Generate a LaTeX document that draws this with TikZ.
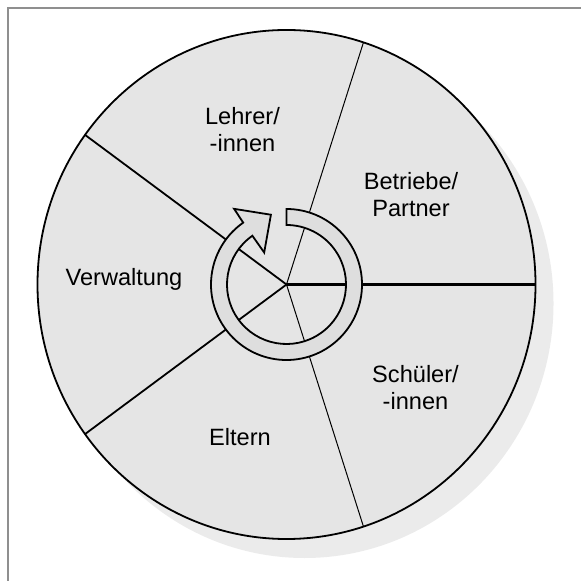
\documentclass[tikz,border=0pt]{standalone}
\usepackage{fontspec}
\setmainfont{Liberation Sans}
\usetikzlibrary{positioning}
\definecolor{wheelfill}{gray}{0.90}
\definecolor{shadowfill}{gray}{0.92}
\definecolor{ringfill}{gray}{0.87}
\definecolor{framegray}{gray}{0.56}
\tikzset{
  label/.style={font=\fontsize{11.8}{13.5}\selectfont, align=center, inner sep=0pt},
  rim/.style={draw, line width=0.9pt, fill=wheelfill},
  thinspoke/.style={line width=0.5pt},
  midspoke/.style={line width=0.9pt},
  thickspoke/.style={line width=1.4pt},
  ring/.style={draw, line width=0.9pt, fill=ringfill, line join=miter},
  frameline/.style={draw=framegray, line width=1pt}
}

\begin{document}
\begin{tikzpicture}[x=0.5pt, y=0.5pt]

\useasboundingbox (-286.5,-296.5) rectangle (294.5,284.5);

% Frame (top and left only)
\draw[frameline] (-278,-296.5) -- (-278,276) -- (294.5,276);

% Shadow
\fill[shadowfill] (18,-19) ellipse [x radius=249, y radius=254.5];

% Wheel
\coordinate (c) at (0,0);
\draw[rim] (c) ellipse [x radius=249, y radius=254.5];

% Spokes
\coordinate (s0)   at ({249*cos(0)},{254.5*sin(0)});
\coordinate (s72)  at ({249*cos(72)},{254.5*sin(72)});
\coordinate (s144) at ({249*cos(144)},{254.5*sin(144)});
\coordinate (s216) at ({249*cos(216)},{254.5*sin(216)});
\coordinate (s288) at ({249*cos(288)},{254.5*sin(288)});
\draw[thickspoke] (c) -- (s0);
\draw[thinspoke] (c) -- (s72);
\draw[midspoke] (c) -- (s144);
\draw[midspoke] (c) -- (s216);
\draw[thinspoke] (c) -- (s288);

% Circular arrow
\draw[ring] (90:75.5) arc[start angle=90, end angle=-235, radius=75.5]
  -- (124.7:92) -- (102.6:71.5) -- (124.9:39) -- (125:59.5)
  arc[start angle=-235, end angle=90, radius=59.5] -- cycle;

% Labels
\node[label] (lehrer) at (-44,154.5) {Lehrer/\\-innen};
\node[label] (betriebe) at (124.5,89.5) {Betriebe/\\Partner};
\node[label] (verwaltung) at (-162.5,5) {Verwaltung};
\node[label] (schueler) at (129,-103.5) {Schüler/\\-innen};
\node[label] (eltern) at (-46.5,-152.5) {Eltern};

\end{tikzpicture}
\end{document}
